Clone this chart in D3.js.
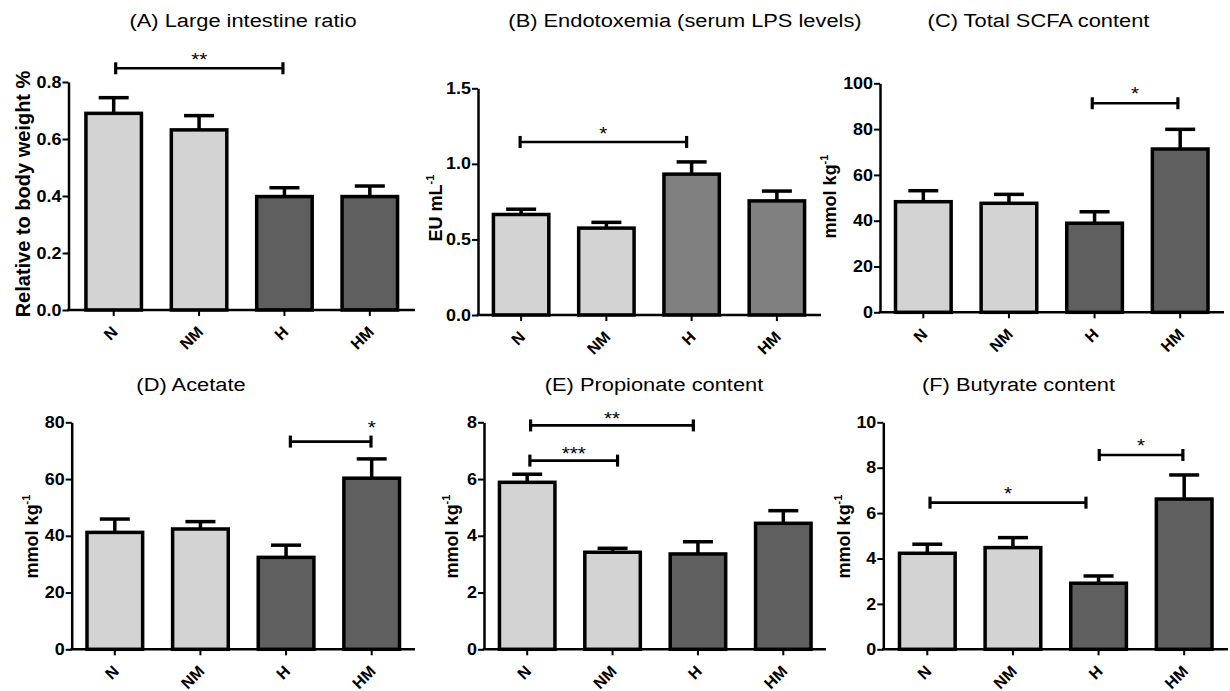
<!DOCTYPE html>
<html><head><meta charset="utf-8">
<script src="https://cdn.jsdelivr.net/npm/d3@7"></script>
<style>
body{margin:0;background:#fff;}
svg{display:block;font-family:"Liberation Sans",Arial,Helvetica,sans-serif;}
</style></head><body>
<svg id="chart" width="1230" height="691"></svg>
<script>
// ---------------- DATA ----------------
const categories = ["N", "NM", "H", "HM"];

const titles = [
  "(A) Large intestine ratio",
  "(B) Endotoxemia (serum LPS levels)",
  "(C) Total SCFA content",
  "(D) Acetate",
  "(E) Propionate content",
  "(F) Butyrate content"
];
const yLabelMain = ["Relative to body weight %", "EU mL", "mmol kg", "mmol kg", "mmol kg", "mmol kg"];
const yLabelSup  = ["", "-1", "-1", "-1", "-1", "-1"];

// (A) Large intestine ratio
const ratioMean = [0.690, 0.632, 0.398, 0.398];
const ratioSem  = [0.055, 0.050, 0.031, 0.037];
const ratioTicks = [0, 0.2, 0.4, 0.6, 0.8];
const sigRatio = [{from: "N", to: "H", level: 0.848, label: "**"}];

// (B) Endotoxemia
const lpsMean = [0.665, 0.575, 0.932, 0.755];
const lpsSem  = [0.035, 0.038, 0.081, 0.065];
const lpsTicks = [0, 0.5, 1.0, 1.5];
const sigLps = [{from: "N", to: "H", level: 1.145, label: "*"}];

// (C) Total SCFA
const scfaMean = [48.3, 47.6, 38.9, 71.3];
const scfaSem  = [4.8, 3.9, 5.0, 8.6];
const scfaTicks = [0, 20, 40, 60, 80, 100];
const sigScfa = [{from: "H", to: "HM", level: 91.3, label: "*"}];

// (D) Acetate
const acetateMean = [41.2, 42.4, 32.4, 60.3];
const acetateSem  = [4.7, 2.6, 4.3, 6.8];
const acetateTicks = [0, 20, 40, 60, 80];
const sigAcetate = [{from: "H", to: "HM", level: 73.2, label: "*"}];

// (E) Propionate
const propionateMean = [5.885, 3.42, 3.36, 4.44];
const propionateSem  = [0.285, 0.14, 0.43, 0.445];
const propionateTicks = [0, 2, 4, 6, 8];
const sigPropionate = [
  {from: "N", to: "NM", level: 6.65, label: "***"},
  {from: "N", to: "H", level: 7.89, label: "**"}
];

// (F) Butyrate
const butyrateMean = [4.23, 4.48, 2.91, 6.62];
const butyrateSem  = [0.40, 0.44, 0.32, 1.06];
const butyrateTicks = [0, 2, 4, 6, 8, 10];
const sigButyrate = [
  {from: "H", to: "HM", level: 8.56, label: "*"},
  {from: "N", to: "H", level: 6.46, label: "*"}
];

// ---------------- STYLE / LAYOUT ----------------
const LIGHT = "#d3d3d3", DARK = "#5f5f5f", MID = "#808080";

const panels = [
  {mean: ratioMean, sem: ratioSem, ticks: ratioTicks, fmt: ".1f", fills: [LIGHT, LIGHT, DARK, DARK], sig: sigRatio,
   box: {axisX: 68.5, xEnd: 415, band: [71, 412.5], y0: 310, yTop: 82, tx: 243, ty: 27, lx: 30, ly: 194, ls: 20},
   br: [{d1: 2, d2: -1.5, sdy: -2}]},
  {mean: lpsMean, sem: lpsSem, ticks: lpsTicks, fmt: ".1f", fills: [LIGHT, LIGHT, MID, MID], sig: sigLps,
   box: {axisX: 478, xEnd: 821, band: [478.5, 819.5], y0: 315, yTop: 88.3, tx: 685, ty: 27, lx: 442, ly: 208, ls: 18},
   br: [{d1: -1, d2: -5, sdy: -1.5}]},
  {mean: scfaMean, sem: scfaSem, ticks: scfaTicks, fmt: "d", fills: [LIGHT, LIGHT, DARK, DARK], sig: sigScfa,
   box: {axisX: 880, xEnd: 1224, band: [880.5, 1223], y0: 312.3, yTop: 83.3, tx: 1038.5, ty: 27, lx: 836, ly: 196.5, ls: 18},
   br: [{d1: -2.3, d2: -2.3, sdy: -3}]},
  {mean: acetateMean, sem: acetateSem, ticks: acetateTicks, fmt: "d", fills: [LIGHT, LIGHT, DARK, DARK], sig: sigAcetate,
   box: {axisX: 71.7, xEnd: 415, band: [72, 414.5], y0: 649.3, yTop: 422.3, tx: 191, ty: 391, lx: 38, ly: 536.5, ls: 18},
   br: [{d1: 4.3, d2: -0.7, sdy: -8, atEnd: true}]},
  {mean: propionateMean, sem: propionateSem, ticks: propionateTicks, fmt: "d", fills: [LIGHT, LIGHT, DARK, DARK], sig: sigPropionate,
   box: {axisX: 484, xEnd: 826, band: [484.5, 826], y0: 649.3, yTop: 422.3, tx: 654, ty: 391, lx: 458, ly: 536.5, ls: 18},
   br: [{d1: 2.7, d2: 5, sdy: -1}, {d1: 3.4, d2: -4.6, sdy: 0}]},
  {mean: butyrateMean, sem: butyrateSem, ticks: butyrateTicks, fmt: "d", fills: [LIGHT, LIGHT, DARK, DARK], sig: sigButyrate,
   box: {axisX: 883.3, xEnd: 1228, band: [884.5, 1227], y0: 649.3, yTop: 422.3, tx: 1018.5, ty: 391, lx: 849.5, ly: 536.5, ls: 18},
   br: [{d1: 0.7, d2: -1.3, sdy: -2.6}, {d1: 2.7, d2: -12.6, sdy: -2.3}]}
];

const BAR_FRAC = 0.65, STROKE = 3.5, CAP = 15;

// ---------------- DRAW ----------------
const svg = d3.select("#chart");

panels.forEach((p, i) => {
  const b = p.box;
  const g = svg.append("g");
  const x = d3.scaleBand().domain(categories).range(b.band).padding(0);
  const y = d3.scaleLinear().domain([0, p.ticks[p.ticks.length - 1]]).range([b.y0, b.yTop]);
  const cx = c => x(c) + x.bandwidth() / 2;
  const bw = x.bandwidth() * BAR_FRAC;

  // title
  g.append("text")
    .attr("transform", `translate(${b.tx},${b.ty}) scale(1.15,1)`)
    .attr("text-anchor", "middle")
    .attr("font-size", 19)
    .attr("fill", "#000")
    .text(titles[i]);

  // y label
  const yl = g.append("text")
    .attr("transform", `translate(${b.lx},${b.ly}) rotate(-90)`)
    .attr("text-anchor", "middle")
    .attr("font-size", b.ls)
    .attr("font-weight", "bold")
    .text(yLabelMain[i]);
  if (yLabelSup[i]) {
    yl.append("tspan").attr("dy", -8).attr("font-size", 11).text(yLabelSup[i]);
  }

  // error bars
  const eb = g.append("g").attr("stroke", "#000").attr("stroke-width", STROKE).attr("fill", "none");
  categories.forEach((c, k) => {
    const top = y(p.mean[k] + p.sem[k]);
    eb.append("line").attr("x1", cx(c)).attr("x2", cx(c)).attr("y1", y(p.mean[k])).attr("y2", top);
    eb.append("line").attr("x1", cx(c) - CAP).attr("x2", cx(c) + CAP).attr("y1", top).attr("y2", top);
  });

  // bars
  g.append("g").selectAll("rect").data(categories).join("rect")
    .attr("x", c => cx(c) - bw / 2)
    .attr("width", bw)
    .attr("y", (c, k) => y(p.mean[k]))
    .attr("height", (c, k) => b.y0 - y(p.mean[k]))
    .attr("fill", (c, k) => p.fills[k])
    .attr("stroke", "#000")
    .attr("stroke-width", STROKE);

  // y axis
  const ya = g.append("g").attr("transform", `translate(${b.axisX},0)`)
    .call(d3.axisLeft(y).tickValues(p.ticks).tickFormat(d3.format(p.fmt)).tickSize(6).tickSizeOuter(0));
  ya.attr("font-family", null).attr("font-size", null);
  ya.select(".domain").attr("stroke", "#000").attr("stroke-width", 2.5);
  ya.selectAll(".tick line").attr("stroke", "#000").attr("stroke-width", 2);
  ya.selectAll(".tick text")
    .attr("x", null)
    .attr("transform", "translate(-7,0) scale(1.12,1)")
    .attr("font-size", 16).attr("font-weight", "bold").attr("fill", "#000");

  // x axis
  const xa = g.append("g").attr("transform", `translate(0,${b.y0})`)
    .call(d3.axisBottom(x).tickSize(6).tickSizeOuter(0));
  xa.attr("font-family", null).attr("font-size", null);
  xa.select(".domain").remove();
  xa.selectAll(".tick line").attr("stroke", "#000").attr("stroke-width", 2);
  xa.selectAll(".tick text")
    .attr("y", null).attr("dy", null)
    .attr("transform", "translate(5,23) rotate(-45)")
    .attr("text-anchor", "end")
    .attr("font-size", 16).attr("font-weight", "bold").attr("fill", "#000");
  g.append("line")
    .attr("x1", b.axisX - 1.25).attr("x2", b.xEnd)
    .attr("y1", b.y0).attr("y2", b.y0)
    .attr("stroke", "#000").attr("stroke-width", 2.5);

  // significance brackets
  p.sig.forEach((s, j) => {
    const o = p.br[j];
    const x1 = cx(s.from) + o.d1, x2 = cx(s.to) + o.d2, yy = y(s.level);
    const sg = g.append("g").attr("stroke", "#000");
    sg.append("line").attr("x1", x1).attr("x2", x2).attr("y1", yy).attr("y2", yy).attr("stroke-width", 2.6);
    sg.append("line").attr("x1", x1).attr("x2", x1).attr("y1", yy - 6).attr("y2", yy + 6).attr("stroke-width", 3.2);
    sg.append("line").attr("x1", x2).attr("x2", x2).attr("y1", yy - 6).attr("y2", yy + 6).attr("stroke-width", 3.2);
    const sx = o.atEnd ? cx(s.to) : (x1 + x2) / 2;
    g.append("text")
      .attr("transform", `translate(${sx},${yy + o.sdy}) scale(1.15,1)`)
      .attr("text-anchor", "middle")
      .attr("font-size", 18)
      .attr("fill", "#000")
      .text(s.label);
  });
});
</script>
</body></html>
